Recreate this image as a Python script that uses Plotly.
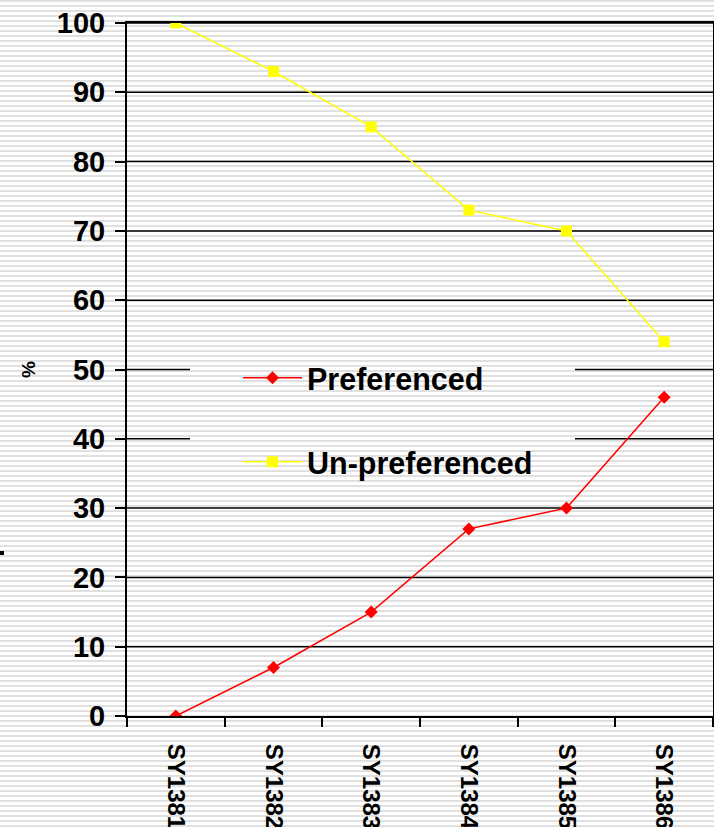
import plotly.graph_objects as go

# ---- data ----
categories = ["SY1381", "SY1382", "SY1383", "SY1384", "SY1385", "SY1386"]
preferenced = [0, 7, 15, 27, 30, 46]
unpreferenced = [100, 93, 85, 73, 70, 54]
y_ticks = [0, 10, 20, 30, 40, 50, 60, 70, 80, 90, 100]
y_title = "%"

# ---- layout geometry (pixels) ----
W, H = 714, 827
ML, MR, MT, MB = 127, 1, 23, 111
PW = W - ML - MR
PH = H - MT - MB

def py(y):
    return (H - MB - y) / PH

def px(x):
    return (x - ML) / PW

FONT = "Liberation Sans, Arial, sans-serif"

shapes = []
# striped background
for y0 in range(0, H + 5, 5):
    shapes.append(dict(type="rect", xref="paper", yref="paper",
                       x0=px(0), x1=px(W + 2), y0=py(y0), y1=py(y0 + 2),
                       fillcolor="#e0e0e0", line_width=0, layer="below"))

# gridlines (interrupted by the legend box at 40 and 50)
gap_l, gap_r = px(190), px(575)
for v in y_ticks[1:]:
    segs = [(0, gap_l), (gap_r, 1)] if v in (40, 50) else [(0, 1)]
    for a, b in segs:
        shapes.append(dict(type="line", xref="paper", yref="y",
                           x0=a, x1=b, y0=v, y1=v,
                           line=dict(color="black", width=1.5), layer="below"))

# small stray mark at left edge
shapes.append(dict(type="rect", xref="paper", yref="paper",
                   x0=px(0), x1=px(4), y0=py(555), y1=py(551),
                   fillcolor="black", line_width=0, layer="above"))

fig = go.Figure()
fig.add_trace(go.Scatter(
    x=categories, y=preferenced, name="Preferenced", mode="lines+markers",
    line=dict(color="#ff0000", width=1.5),
    marker=dict(symbol="diamond", size=10, color="#ff0000"),
    legend="legend"))
fig.add_trace(go.Scatter(
    x=categories, y=unpreferenced, name="Un-preferenced", mode="lines+markers",
    line=dict(color="#ffff00", width=1.5),
    marker=dict(symbol="square", size=11, color="#ffff00"),
    legend="legend2"))

legend_common = dict(xanchor="left", yanchor="middle", bgcolor="rgba(0,0,0,0)",
                     borderwidth=0, itemwidth=59,
                     font=dict(family=FONT, size=30.5, color="black", weight="bold"))

fig.update_layout(
    width=W, height=H,
    margin=dict(l=ML, r=MR, t=MT, b=MB, autoexpand=False),
    paper_bgcolor="white", plot_bgcolor="rgba(0,0,0,0)",
    showlegend=True,
    legend=dict(x=px(238), y=py(378), **legend_common),
    legend2=dict(x=px(238), y=py(462), **legend_common),
    shapes=shapes,
    xaxis=dict(
        type="category", categoryorder="array", categoryarray=categories,
        range=[-0.5, len(categories) - 0.5],
        showgrid=False, zeroline=False,
        showline=True, linecolor="black", linewidth=2, mirror=True,
        ticks="outside", tickson="boundaries", ticklen=9, tickwidth=1.5, tickcolor="black",
        tickangle=90, ticklabelstandoff=21,
        tickfont=dict(family=FONT, size=24, color="black", weight="bold"),
        automargin=False,
    ),
    yaxis=dict(
        range=[0, 100], tickvals=y_ticks,
        showgrid=False, zeroline=False,
        showline=True, linecolor="black", linewidth=2, mirror=True,
        ticks="outside", ticklen=10, tickwidth=1.5, tickcolor="black",
        ticklabelstandoff=4,
        tickfont=dict(family=FONT, size=29, color="black", weight="bold"),
        automargin=False,
    ),
    annotations=[dict(text=y_title, xref="paper", yref="paper",
                      x=px(29), y=py(370), xanchor="center", yanchor="middle",
                      showarrow=False, textangle=-90,
                      font=dict(family=FONT, size=19, color="black", weight="bold"))],
)

fig.write_html("out.html", config={"displayModeBar": False},
               post_script="document.body.style.margin='0';")
